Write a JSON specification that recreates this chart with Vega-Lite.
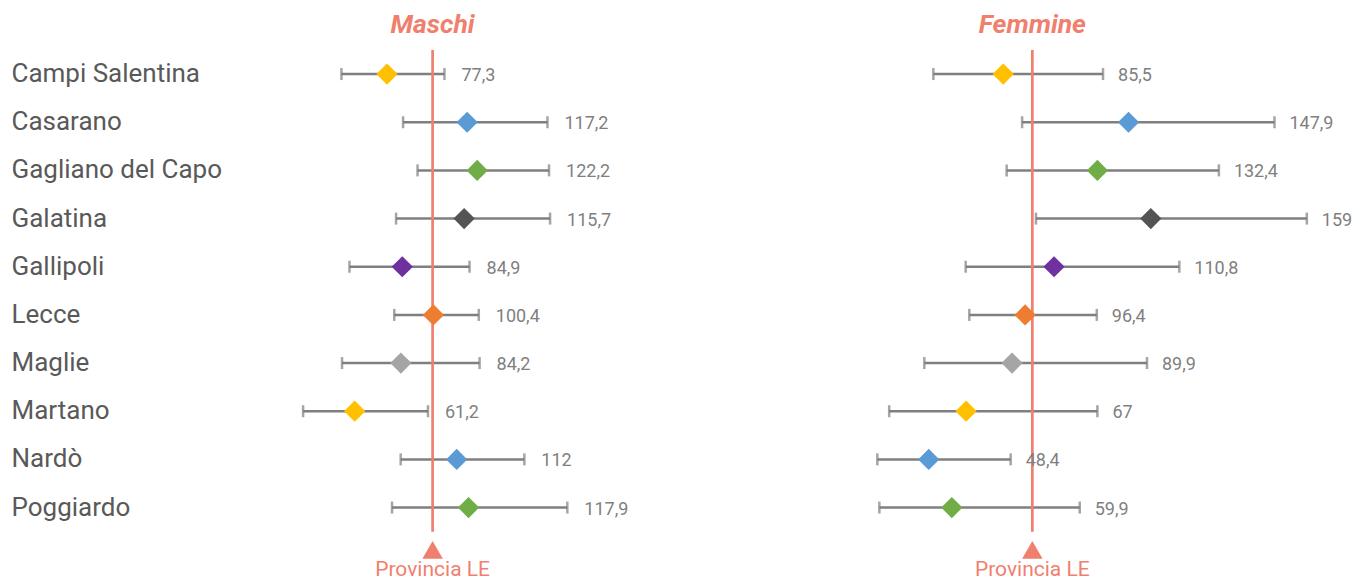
{
  "$schema": "https://vega.github.io/schema/vega-lite/v6.json",
  "padding": {"left": 11, "top": 12, "right": 0, "bottom": 0},
  "bounds": "flush",
  "spacing": 167.25,
  "config": {
    "view": {"stroke": null},
    "font": "Roboto",
    "locale": {"number": {"decimal": ",", "thousands": ".", "grouping": [3], "currency": ["€", ""]}}
  },
  "resolve": {"scale": {"x": "independent", "y": "shared", "color": "shared"}},
  "data": {"values": [
    {"city": "Campi Salentina", "sex": "Maschi", "value": 77.3, "lo": 54.6, "hi": 105.9},
    {"city": "Casarano", "sex": "Maschi", "value": 117.2, "lo": 85.3, "hi": 157.2},
    {"city": "Gagliano del Capo", "sex": "Maschi", "value": 122.2, "lo": 92.5, "hi": 158.0},
    {"city": "Galatina", "sex": "Maschi", "value": 115.7, "lo": 81.8, "hi": 158.5},
    {"city": "Gallipoli", "sex": "Maschi", "value": 84.9, "lo": 58.6, "hi": 118.4},
    {"city": "Lecce", "sex": "Maschi", "value": 100.4, "lo": 80.9, "hi": 123.0},
    {"city": "Maglie", "sex": "Maschi", "value": 84.2, "lo": 54.9, "hi": 123.4},
    {"city": "Martano", "sex": "Maschi", "value": 61.2, "lo": 35.5, "hi": 97.7},
    {"city": "Nardò", "sex": "Maschi", "value": 112, "lo": 84.1, "hi": 145.7},
    {"city": "Poggiardo", "sex": "Maschi", "value": 117.9, "lo": 79.8, "hi": 167.1},
    {"city": "Campi Salentina", "sex": "Femmine", "value": 85.5, "lo": 50.7, "hi": 135.2},
    {"city": "Casarano", "sex": "Femmine", "value": 147.9, "lo": 94.9, "hi": 220.6},
    {"city": "Gagliano del Capo", "sex": "Femmine", "value": 132.4, "lo": 87.2, "hi": 192.9},
    {"city": "Galatina", "sex": "Femmine", "value": 159, "lo": 101.8, "hi": 236.7},
    {"city": "Gallipoli", "sex": "Femmine", "value": 110.8, "lo": 66.8, "hi": 173.2},
    {"city": "Lecce", "sex": "Femmine", "value": 96.4, "lo": 68.6, "hi": 132.1},
    {"city": "Maglie", "sex": "Femmine", "value": 89.9, "lo": 46.2, "hi": 157.1},
    {"city": "Martano", "sex": "Femmine", "value": 67, "lo": 28.7, "hi": 132.4},
    {"city": "Nardò", "sex": "Femmine", "value": 48.4, "lo": 22.8, "hi": 89.2},
    {"city": "Poggiardo", "sex": "Femmine", "value": 59.9, "lo": 23.8, "hi": 123.6}
  ]},
  "hconcat": [
    {
      "width": 301.2,
      "height": 529.8,
      "title": {"text": "Maschi", "frame": "group", "anchor": "middle", "fontSize": 26.5, "fontStyle": "italic", "fontWeight": "bold", "color": "#F07F6E", "offset": 10},
      "transform": [{"filter": "datum.sex === 'Maschi'"}],
      "encoding": {
        "y": {
          "field": "city", "type": "nominal",
          "scale": {"domain": ["Campi Salentina", "Casarano", "Gagliano del Capo", "Galatina", "Gallipoli", "Lecce", "Maglie", "Martano", "Nardò", "Poggiardo", "Provincia LE"], "paddingInner": 0, "paddingOuter": 0},
          "axis": {"title": null, "ticks": false, "domain": false, "labelAlign": "left", "labelPadding": 271, "labelLimit": 400, "labelFontSize": 26, "labelColor": "#595959", "labelFont": "Roboto", "labelExpr": "datum.value === 'Provincia LE' ? '' : datum.label"}
        }
      },
      "layer": [
        {
          "mark": {"type": "rule", "color": "#7F7F7F", "strokeWidth": 2.5},
          "encoding": {
            "x": {"field": "lo", "type": "quantitative", "scale": {"domain": [25, 175], "nice": false, "zero": false}, "axis": null},
            "x2": {"field": "hi"}
          }
        },
        {
          "mark": {"type": "tick", "orient": "vertical", "color": "#7F7F7F", "size": 12, "thickness": 2.5},
          "encoding": {"x": {"field": "lo", "type": "quantitative", "axis": null}}
        },
        {
          "mark": {"type": "tick", "orient": "vertical", "color": "#7F7F7F", "size": 12, "thickness": 2.5},
          "encoding": {"x": {"field": "hi", "type": "quantitative", "axis": null}}
        },
        {
          "data": {"values": [{}]},
          "mark": {"type": "rule", "color": "#F07F6E", "strokeWidth": 2.7},
          "encoding": {
            "x": {"datum": 100, "type": "quantitative", "axis": null},
            "y": {"datum": "Campi Salentina", "type": "nominal", "bandPosition": 0},
            "y2": {"datum": "Provincia LE", "bandPosition": 0}
          }
        },
        {
          "mark": {"type": "point", "shape": "diamond", "filled": true, "size": 450, "opacity": 1},
          "encoding": {
            "x": {"field": "value", "type": "quantitative", "axis": null},
            "color": {"field": "city", "type": "nominal", "legend": null,
              "scale": {"domain": ["Campi Salentina", "Casarano", "Gagliano del Capo", "Galatina", "Gallipoli", "Lecce", "Maglie", "Martano", "Nardò", "Poggiardo"],
                        "range": ["#FFC000", "#5B9BD5", "#70AD47", "#545454", "#7030A0", "#ED7D31", "#A5A5A5", "#FFC000", "#5B9BD5", "#70AD47"]}}
          }
        },
        {
          "mark": {"type": "text", "align": "left", "baseline": "middle", "dx": 17, "dy": 2, "fontSize": 18, "color": "#7F7F7F", "font": "Roboto"},
          "encoding": {
            "x": {"field": "hi", "type": "quantitative", "axis": null},
            "text": {"field": "value", "type": "quantitative", "format": ".1~f"}
          }
        },
        {
          "data": {"values": [{}]},
          "mark": {"type": "point", "shape": "triangle-up", "filled": true, "size": 420, "opacity": 1, "color": "#F07F6E"},
          "encoding": {
            "x": {"datum": 100, "type": "quantitative", "axis": null},
            "y": {"datum": "Provincia LE", "type": "nominal", "bandPosition": 0.38}
          }
        },
        {
          "data": {"values": [{}]},
          "mark": {"type": "text", "align": "center", "baseline": "middle", "fontSize": 21, "color": "#F07F6E", "font": "Roboto"},
          "encoding": {
            "x": {"datum": 100, "type": "quantitative", "axis": null},
            "y": {"datum": "Provincia LE", "type": "nominal", "bandPosition": 0.8},
            "text": {"value": "Provincia LE"}
          }
        }
      ]
    },
    {
      "width": 562.2,
      "height": 529.8,
      "title": {"text": "Femmine", "frame": "group", "anchor": "middle", "fontSize": 26.5, "fontStyle": "italic", "fontWeight": "bold", "color": "#F07F6E", "offset": 10},
      "transform": [{"filter": "datum.sex === 'Femmine'"}],
      "encoding": {
        "y": {
          "field": "city", "type": "nominal",
          "scale": {"domain": ["Campi Salentina", "Casarano", "Gagliano del Capo", "Galatina", "Gallipoli", "Lecce", "Maglie", "Martano", "Nardò", "Poggiardo", "Provincia LE"], "paddingInner": 0, "paddingOuter": 0},
          "axis": null
        }
      },
      "layer": [
        {
          "mark": {"type": "rule", "color": "#7F7F7F", "strokeWidth": 2.5},
          "encoding": {
            "x": {"field": "lo", "type": "quantitative", "scale": {"domain": [-40, 240], "nice": false, "zero": false}, "axis": null},
            "x2": {"field": "hi"}
          }
        },
        {
          "mark": {"type": "tick", "orient": "vertical", "color": "#7F7F7F", "size": 12, "thickness": 2.5},
          "encoding": {"x": {"field": "lo", "type": "quantitative", "axis": null}}
        },
        {
          "mark": {"type": "tick", "orient": "vertical", "color": "#7F7F7F", "size": 12, "thickness": 2.5},
          "encoding": {"x": {"field": "hi", "type": "quantitative", "axis": null}}
        },
        {
          "data": {"values": [{}]},
          "mark": {"type": "rule", "color": "#F07F6E", "strokeWidth": 2.7},
          "encoding": {
            "x": {"datum": 100, "type": "quantitative", "axis": null},
            "y": {"datum": "Campi Salentina", "type": "nominal", "bandPosition": 0},
            "y2": {"datum": "Provincia LE", "bandPosition": 0}
          }
        },
        {
          "mark": {"type": "point", "shape": "diamond", "filled": true, "size": 450, "opacity": 1},
          "encoding": {
            "x": {"field": "value", "type": "quantitative", "axis": null},
            "color": {"field": "city", "type": "nominal", "legend": null}
          }
        },
        {
          "mark": {"type": "text", "align": "left", "baseline": "middle", "dx": 15, "dy": 2, "fontSize": 18, "color": "#7F7F7F", "font": "Roboto"},
          "encoding": {
            "x": {"field": "hi", "type": "quantitative", "axis": null},
            "text": {"field": "value", "type": "quantitative", "format": ".1~f"}
          }
        },
        {
          "data": {"values": [{}]},
          "mark": {"type": "point", "shape": "triangle-up", "filled": true, "size": 420, "opacity": 1, "color": "#F07F6E"},
          "encoding": {
            "x": {"datum": 100, "type": "quantitative", "axis": null},
            "y": {"datum": "Provincia LE", "type": "nominal", "bandPosition": 0.38}
          }
        },
        {
          "data": {"values": [{}]},
          "mark": {"type": "text", "align": "center", "baseline": "middle", "fontSize": 21, "color": "#F07F6E", "font": "Roboto"},
          "encoding": {
            "x": {"datum": 100, "type": "quantitative", "axis": null},
            "y": {"datum": "Provincia LE", "type": "nominal", "bandPosition": 0.8},
            "text": {"value": "Provincia LE"}
          }
        }
      ]
    }
  ]
}
